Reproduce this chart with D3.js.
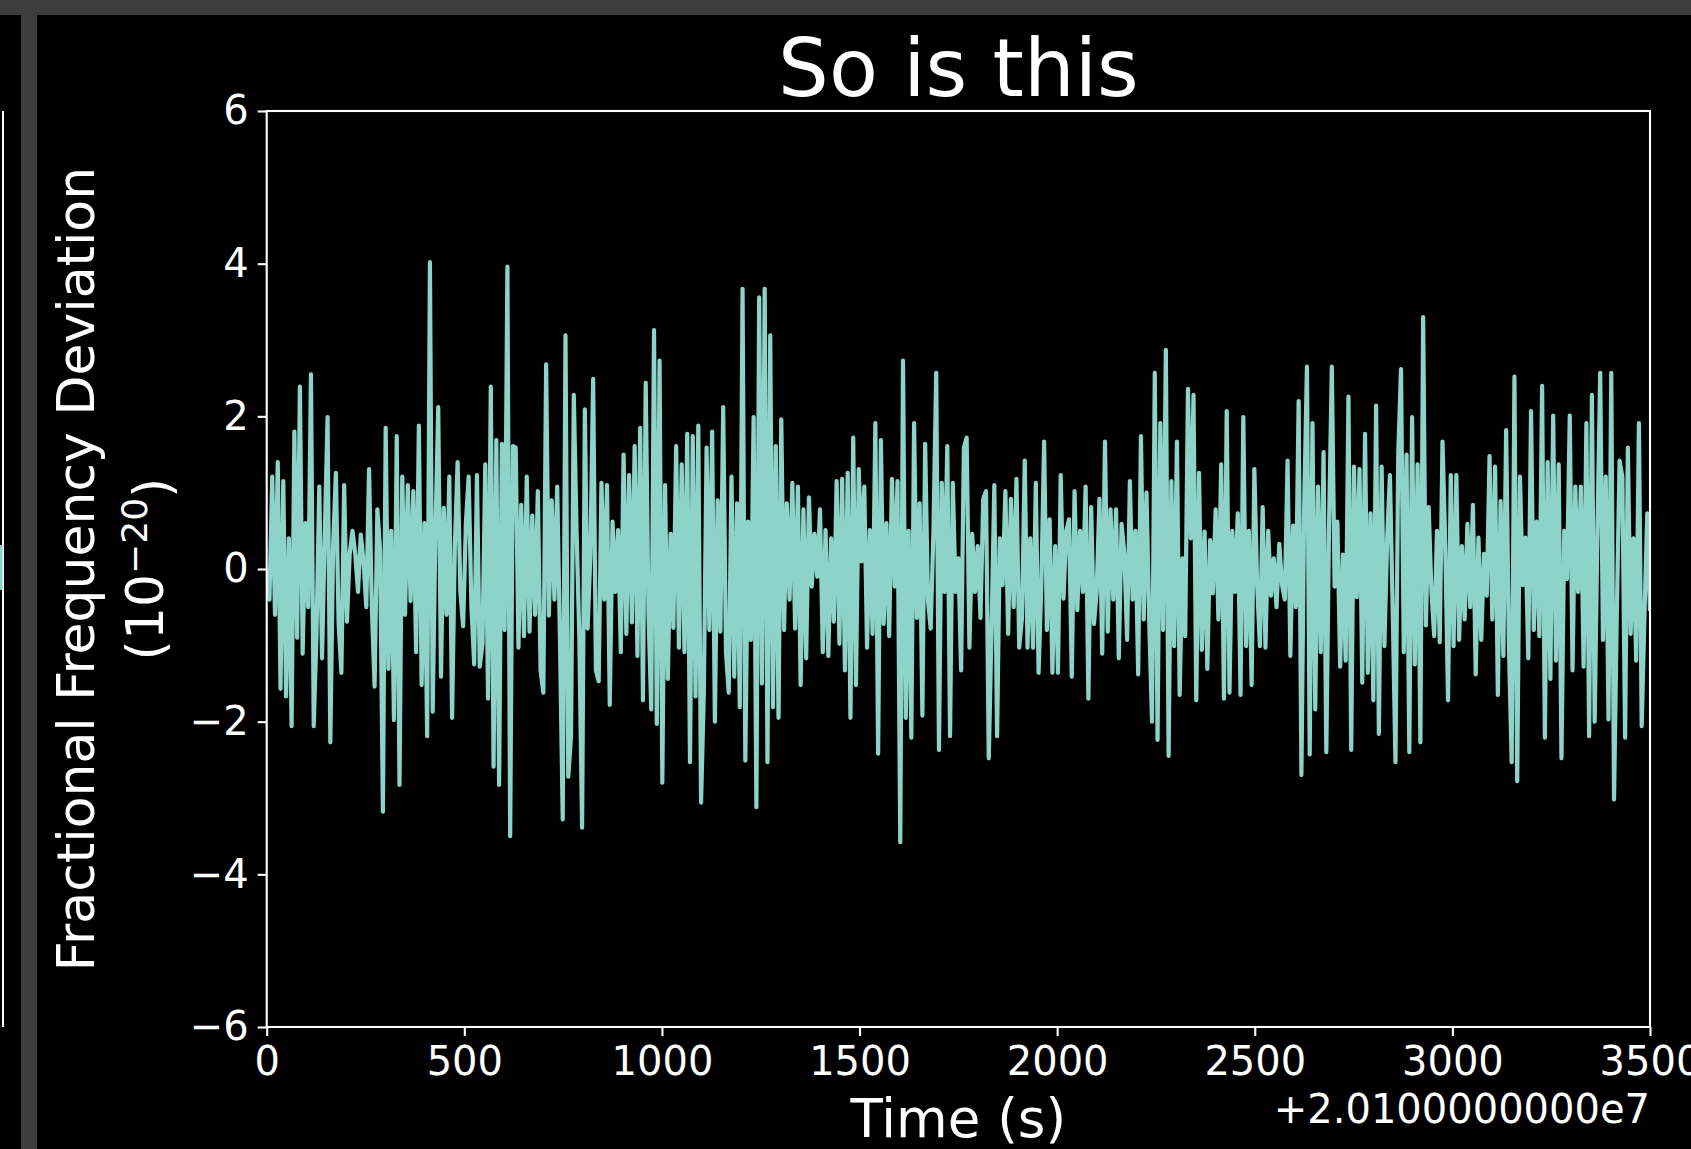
<!DOCTYPE html>
<html><head><meta charset="utf-8">
<script src="https://cdn.jsdelivr.net/npm/d3@7"></script>
<style>html,body{margin:0;padding:0;background:#000;} svg{display:block;}</style>
</head><body>
<svg id="chart" width="1691" height="1149"></svg>
<script>
const titleText = "So is this";
const xLabelText = "Time (s)";
const yLabelText = "Fractional Frequency Deviation";
const offsetText = "+2.0100000000e7";
const xTicks = [0, 500, 1000, 1500, 2000, 2500, 3000, 3500];
const yTicks = [-6, -4, -2, 0, 2, 4, 6];
const timeStep = 7; // seconds between samples (offset from 2.01e7 s)
const deviation = [
 0.0,-0.4,1.21,-0.6,1.40,-1.57,1.15,-1.67,0.4,-2.06,
 1.80,-0.9,2.39,-1.11,0.6,-0.5,2.55,-2.06,-0.85,1.08,
 -1.17,0.46,1.99,-2.27,0.3,1.26,-0.72,-1.36,1.10,-0.69,
 0.2,0.5,0.2,-0.3,0.45,0.1,-0.5,1.31,-0.5,-1.54,
 0.78,0.24,-3.18,1.85,-1.31,0.5,-1.98,1.74,-2.83,1.21,
 -0.6,1.10,-0.42,1.02,-1.09,1.88,-1.52,0.6,-2.19,4.02,
 -1.87,0.5,2.12,-1.41,0.8,-0.6,1.21,-1.95,0.3,1.40,
 -0.3,-0.75,0.6,1.21,-0.5,-1.25,1.23,-1.28,-0.98,1.37,
 -1.70,2.39,-2.59,1.69,-2.83,1.64,-0.8,3.96,-3.50,1.61,
 1.59,-1.03,0.84,-0.88,1.21,-0.82,0.7,-0.6,1.02,-1.33,
 -1.62,2.68,-0.61,0.9,-0.4,1.08,-0.93,-3.28,3.06,-2.72,
 -2.19,2.28,0.51,-0.9,-3.39,2.09,-0.78,0.19,2.49,-1.33,
 -1.47,1.13,-0.4,1.10,-1.78,0.62,-0.3,0.51,-1.09,1.50,
 -0.85,1.23,-0.7,1.61,-1.14,1.85,-1.72,2.44,-0.6,-1.84,
 3.13,-2.03,2.73,-2.80,1.10,-1.44,0.46,-0.77,1.61,-1.03,
 1.37,-1.09,1.77,-2.53,1.74,-1.67,1.88,-3.06,-1.62,1.59,
 -0.80,1.80,-2.0,0.9,-0.82,2.12,-1.09,-1.62,1.21,-1.41,
 0.86,-1.81,3.67,-2.51,0.62,-0.93,1.99,-3.12,3.56,-1.5,
 3.67,-2.53,3.06,-1.81,1.61,-1.95,1.96,-0.80,0.86,-0.4,
 1.13,-0.78,1.08,-1.52,0.78,-1.17,0.94,-0.23,0.46,-0.1,
 0.78,-1.09,0.51,-1.14,0.4,-0.69,1.15,-0.98,1.18,-1.33,
 1.26,-1.95,1.72,-1.52,1.31,0.1,1.08,-1.03,0.51,-0.85,
 1.91,-2.42,1.69,-0.72,0.6,-0.88,1.18,-0.23,1.15,-3.58,
 2.73,-1.95,0.5,-2.21,1.91,-0.64,0.86,-1.92,1.64,-0.4,
 -0.78,0.5,2.57,-2.37,1.13,-0.3,1.61,-2.19,1.13,-0.3,
 0.14,-1.33,1.59,1.72,-1.03,0.46,-0.3,0.3,-0.64,0.92,
 1.02,-2.48,-0.78,1.10,-2.19,0.4,-0.21,1.02,-0.85,0.92,
 -0.5,1.18,-1.03,-0.64,1.42,-1.03,0.4,-1.03,1.13,-1.36,
 -0.2,1.67,-0.80,0.65,-1.36,0.3,-1.36,1.23,-0.39,0.5,
 0.65,-1.41,1.02,-0.54,0.5,-0.3,1.08,-1.70,0.81,-0.72,
 -0.3,0.92,-1.11,1.67,-0.82,0.78,-0.4,0.78,-1.17,0.59,
 0.2,-0.93,1.15,-0.4,0.5,-1.38,1.74,-0.66,1.0,-0.69,
 -2.0,2.57,-2.24,1.91,-0.8,2.87,-2.45,1.15,-1.01,1.67,
 -1.65,0.14,-0.88,2.36,0.4,2.28,-1.72,1.26,-1.06,0.49,
 -1.31,0.38,-0.32,0.78,-0.66,1.37,-1.70,2.07,-1.62,0.5,
 -0.3,0.73,-1.65,1.99,-1.01,0.5,-1.52,1.31,-0.21,-1.01,
 0.81,-1.03,0.5,-0.35,0.14,-0.5,0.33,-0.21,-0.4,1.42,
 -1.14,0.57,-0.5,2.20,-2.70,0.84,2.65,-2.43,1.91,-1.84,
 1.08,-1.09,1.53,-2.40,0.6,2.65,-0.23,0.62,-1.28,0.19,
 -1.20,2.26,-2.37,1.34,-0.37,1.31,-1.49,1.77,-1.36,0.73,
 -1.72,2.14,-2.16,1.34,-1.01,0.4,1.23,-0.55,-2.53,1.50,
 2.62,-1.09,1.50,-2.40,1.99,-1.25,1.37,-2.27,3.30,-0.74,
 0.81,-0.3,-0.88,0.5,-0.96,1.67,0.3,-1.72,1.23,-1.01,
 1.23,-0.93,0.3,-0.66,0.59,-0.5,0.84,-1.38,0.41,-0.93,
 0.2,-0.35,1.48,-0.66,1.34,-1.65,0.89,-1.14,1.82,-0.98,
 -2.53,2.52,-2.78,1.21,-0.21,0.41,-1.17,2.07,-0.80,0.62,
 -0.88,2.40,-2.21,1.40,-1.44,2.01,-1.2,1.37,-2.48,0.5,
 -0.13,2.01,-1.33,1.08,-0.3,1.08,-1.28,1.91,-2.19,2.28,
 -2.0,0.5,2.57,-0.93,1.21,-1.97,2.57,-3.02,-0.6,1.42,
 1.21,-2.21,1.59,-0.85,0.4,-1.2,1.91,-2.06,-0.61,0.73,
 -0.55
];

const W = 1691, H = 1149;
const plot = {left: 266.7, right: 1650, top: 111, bottom: 1027};
const FONT = "'DejaVu Sans', 'Liberation Sans', sans-serif";
const LINE_COLOR = "#8dd3c7";
const FG = "#ffffff";
const FRAME = "#3d3d3d";

const svg = d3.select("#chart");
svg.append("rect").attr("width", W).attr("height", H).attr("fill", "#000");

// window chrome: top bar and divider
svg.append("rect").attr("x", 0).attr("y", 0).attr("width", W).attr("height", 15).attr("fill", FRAME);
svg.append("rect").attr("x", 21).attr("y", 15).attr("width", 16).attr("height", H - 15).attr("fill", FRAME);
// remnant of neighbouring panel at far left
svg.append("line").attr("x1", 3).attr("x2", 3).attr("y1", plot.top).attr("y2", plot.bottom)
  .attr("stroke", FG).attr("stroke-width", 2);
svg.append("line").attr("x1", 1).attr("x2", 1).attr("y1", 545).attr("y2", 590)
  .attr("stroke", LINE_COLOR).attr("stroke-width", 3);

const x = d3.scaleLinear().domain([0, 3500]).range([plot.left, plot.right]);
const y = d3.scaleLinear().domain([-6, 6]).range([plot.bottom, plot.top]);

const data = deviation.map((v, i) => ({t: i * timeStep, v}));

svg.append("clipPath").attr("id", "clip").append("rect")
  .attr("x", plot.left).attr("y", plot.top)
  .attr("width", plot.right - plot.left).attr("height", plot.bottom - plot.top);

svg.append("path")
  .datum(data)
  .attr("clip-path", "url(#clip)")
  .attr("fill", "none")
  .attr("stroke", LINE_COLOR)
  .attr("stroke-width", 4.2)
  .attr("stroke-linejoin", "round")
  .attr("d", d3.line().x(d => x(d.t)).y(d => y(d.v)));

// axes
const xAxis = d3.axisBottom(x).tickValues(xTicks).tickFormat(d3.format("d"))
  .tickSize(9).tickPadding(11).tickSizeOuter(0);
const yAxis = d3.axisLeft(y).tickValues(yTicks).tickFormat(d3.format("d"))
  .tickSize(9).tickPadding(9).tickSizeOuter(0);

const gx = svg.append("g").attr("transform", `translate(0,${plot.bottom})`).call(xAxis);
const gy = svg.append("g").attr("transform", `translate(${plot.left},0)`).call(yAxis);
[gx, gy].forEach(g => {
  g.select(".domain").remove();
  g.selectAll(".tick line").attr("stroke", FG).attr("stroke-width", 2.1);
  g.selectAll(".tick text").attr("fill", FG).style("font-family", FONT).style("font-size", "40px");
});

// spines
svg.append("rect")
  .attr("x", plot.left).attr("y", plot.top)
  .attr("width", plot.right - plot.left).attr("height", plot.bottom - plot.top)
  .attr("fill", "none").attr("stroke", FG).attr("stroke-width", 2.1);

// title
svg.append("text").attr("x", (plot.left + plot.right) / 2).attr("y", 96)
  .attr("text-anchor", "middle").attr("fill", FG)
  .style("font-family", FONT).style("font-size", "80px").text(titleText);

// x label
svg.append("text").attr("x", (plot.left + plot.right) / 2).attr("y", 1137)
  .attr("text-anchor", "middle").attr("fill", FG)
  .style("font-family", FONT).style("font-size", "53px").text(xLabelText);

// offset text
svg.append("text").attr("x", plot.right).attr("y", 1123)
  .attr("text-anchor", "end").attr("fill", FG)
  .style("font-family", FONT).style("font-size", "40px").text(offsetText);

// y label (two lines)
const yc = (plot.top + plot.bottom) / 2;
svg.append("text").attr("transform", `translate(94,${yc}) rotate(-90)`)
  .attr("text-anchor", "middle").attr("fill", FG)
  .style("font-family", FONT).style("font-size", "52px").text(yLabelText);
const t2 = svg.append("text").attr("transform", `translate(163,${yc}) rotate(-90)`)
  .attr("text-anchor", "middle").attr("fill", FG)
  .style("font-family", FONT).style("font-size", "52px");
t2.append("tspan").text("(10");
t2.append("tspan").attr("dy", "-0.45em").style("font-size", "36px").text("\u221220");
t2.append("tspan").attr("dy", "0.45em").text(")");
</script>
</body></html>
